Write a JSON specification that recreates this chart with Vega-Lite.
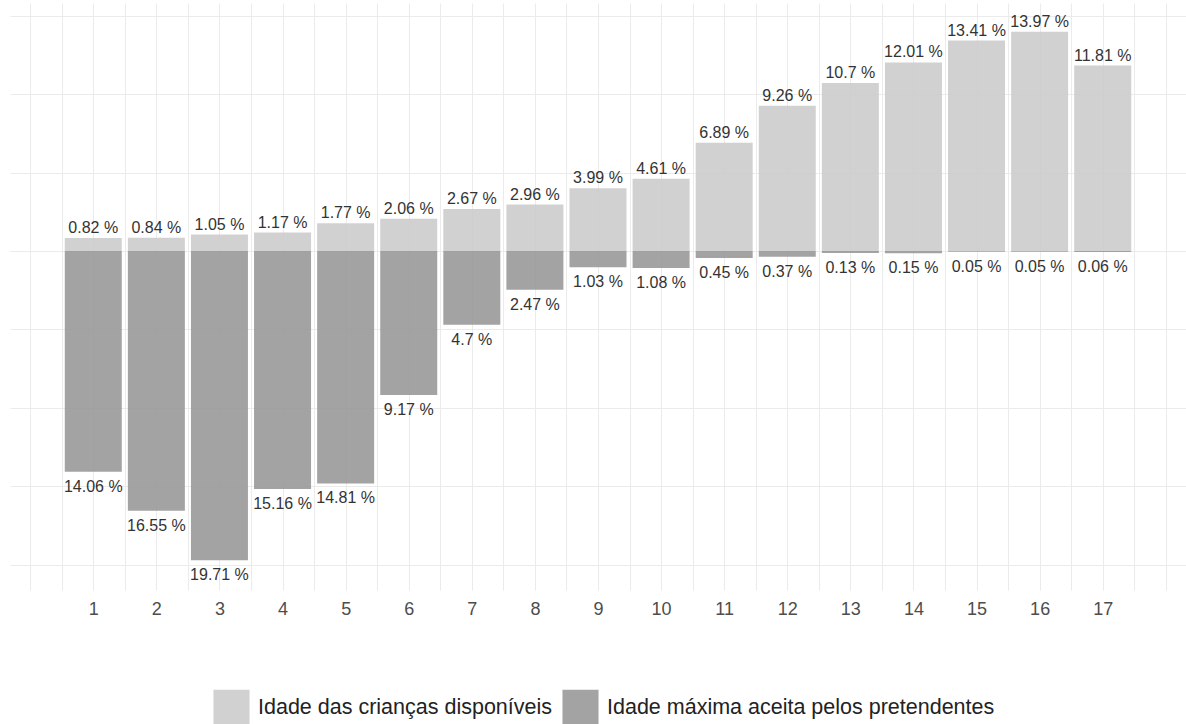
{
  "$schema": "https://vega.github.io/schema/vega-lite/v6.json",
  "width": 1176,
  "height": 587,
  "autosize": {"type": "none"},
  "padding": {"left": 10, "top": 3, "right": 0, "bottom": 134},
  "background": "white",
  "config": {"view": {"stroke": null}, "font": "Liberation Sans"},
  "data": {
    "values": [
      {"idade": 1, "grupo": "Idade das crianças disponíveis", "valor": 0.82},
      {"idade": 2, "grupo": "Idade das crianças disponíveis", "valor": 0.84},
      {"idade": 3, "grupo": "Idade das crianças disponíveis", "valor": 1.05},
      {"idade": 4, "grupo": "Idade das crianças disponíveis", "valor": 1.17},
      {"idade": 5, "grupo": "Idade das crianças disponíveis", "valor": 1.77},
      {"idade": 6, "grupo": "Idade das crianças disponíveis", "valor": 2.06},
      {"idade": 7, "grupo": "Idade das crianças disponíveis", "valor": 2.67},
      {"idade": 8, "grupo": "Idade das crianças disponíveis", "valor": 2.96},
      {"idade": 9, "grupo": "Idade das crianças disponíveis", "valor": 3.99},
      {"idade": 10, "grupo": "Idade das crianças disponíveis", "valor": 4.61},
      {"idade": 11, "grupo": "Idade das crianças disponíveis", "valor": 6.89},
      {"idade": 12, "grupo": "Idade das crianças disponíveis", "valor": 9.26},
      {"idade": 13, "grupo": "Idade das crianças disponíveis", "valor": 10.7},
      {"idade": 14, "grupo": "Idade das crianças disponíveis", "valor": 12.01},
      {"idade": 15, "grupo": "Idade das crianças disponíveis", "valor": 13.41},
      {"idade": 16, "grupo": "Idade das crianças disponíveis", "valor": 13.97},
      {"idade": 17, "grupo": "Idade das crianças disponíveis", "valor": 11.81},
      {"idade": 1, "grupo": "Idade máxima aceita pelos pretendentes", "valor": -14.06},
      {"idade": 2, "grupo": "Idade máxima aceita pelos pretendentes", "valor": -16.55},
      {"idade": 3, "grupo": "Idade máxima aceita pelos pretendentes", "valor": -19.71},
      {"idade": 4, "grupo": "Idade máxima aceita pelos pretendentes", "valor": -15.16},
      {"idade": 5, "grupo": "Idade máxima aceita pelos pretendentes", "valor": -14.81},
      {"idade": 6, "grupo": "Idade máxima aceita pelos pretendentes", "valor": -9.17},
      {"idade": 7, "grupo": "Idade máxima aceita pelos pretendentes", "valor": -4.7},
      {"idade": 8, "grupo": "Idade máxima aceita pelos pretendentes", "valor": -2.47},
      {"idade": 9, "grupo": "Idade máxima aceita pelos pretendentes", "valor": -1.03},
      {"idade": 10, "grupo": "Idade máxima aceita pelos pretendentes", "valor": -1.08},
      {"idade": 11, "grupo": "Idade máxima aceita pelos pretendentes", "valor": -0.45},
      {"idade": 12, "grupo": "Idade máxima aceita pelos pretendentes", "valor": -0.37},
      {"idade": 13, "grupo": "Idade máxima aceita pelos pretendentes", "valor": -0.13},
      {"idade": 14, "grupo": "Idade máxima aceita pelos pretendentes", "valor": -0.15},
      {"idade": 15, "grupo": "Idade máxima aceita pelos pretendentes", "valor": -0.05},
      {"idade": 16, "grupo": "Idade máxima aceita pelos pretendentes", "valor": -0.05},
      {"idade": 17, "grupo": "Idade máxima aceita pelos pretendentes", "valor": -0.06}
    ]
  },
  "transform": [
    {"calculate": "format(abs(datum.valor), '.2~f') + ' %'", "as": "rotulo"}
  ],
  "encoding": {
    "x": {
      "field": "idade",
      "type": "quantitative",
      "scale": {"domain": [-0.32, 18.32], "nice": false, "zero": false, "padding": 0},
      "axis": {
        "title": null,
        "values": [0, 0.5, 1, 1.5, 2, 2.5, 3, 3.5, 4, 4.5, 5, 5.5, 6, 6.5, 7, 7.5, 8, 8.5, 9, 9.5, 10, 10.5, 11, 11.5, 12, 12.5, 13, 13.5, 14, 14.5, 15, 15.5, 16, 16.5, 17, 17.5, 18],
        "labelExpr": "datum.value >= 1 && datum.value <= 17 && datum.value % 1 == 0 ? format(datum.value, 'd') : ''",
        "grid": true,
        "gridColor": "#ebebeb",
        "gridWidth": 1,
        "ticks": false,
        "domain": false,
        "labelFontSize": 18,
        "labelColor": "#4d4d4d",
        "labelPadding": 10,
        "labelFlush": false,
        "labelOverlap": false
      }
    },
    "y": {
      "field": "valor",
      "type": "quantitative",
      "stack": null,
      "scale": {"domain": [-21.6, 15.8], "nice": false},
      "axis": {
        "title": null,
        "values": [-20, -15, -10, -5, 0, 5, 10, 15],
        "labels": false,
        "ticks": false,
        "domain": false,
        "grid": true,
        "gridColor": "#ebebeb",
        "gridWidth": 1
      }
    }
  },
  "layer": [
    {
      "mark": {"type": "bar", "orient": "vertical", "width": 57, "opacity": 0.9},
      "encoding": {
        "color": {
          "field": "grupo",
          "type": "nominal",
          "scale": {
            "domain": ["Idade das crianças disponíveis", "Idade máxima aceita pelos pretendentes"],
            "range": ["#cccccc", "#999999"]
          },
          "legend": {
            "title": null,
            "orient": "none",
            "legendX": 203,
            "legendY": 686,
            "direction": "horizontal",
            "symbolType": "square",
            "symbolSize": 1300,
            "symbolStrokeWidth": 0,
            "symbolOpacity": 0.9,
            "labelFontSize": 21.5,
            "labelColor": "#222222",
            "labelOffset": 8,
            "columnPadding": 9,
            "labelLimit": 600
          }
        }
      }
    },
    {
      "transform": [{"filter": "datum.valor > 0"}],
      "mark": {"type": "text", "baseline": "bottom", "dy": -2, "fontSize": 16, "color": "#333333"},
      "encoding": {"text": {"field": "rotulo"}}
    },
    {
      "transform": [{"filter": "datum.valor < 0"}],
      "mark": {"type": "text", "baseline": "top", "dy": 7, "fontSize": 16, "color": "#333333"},
      "encoding": {"text": {"field": "rotulo"}}
    }
  ]
}
